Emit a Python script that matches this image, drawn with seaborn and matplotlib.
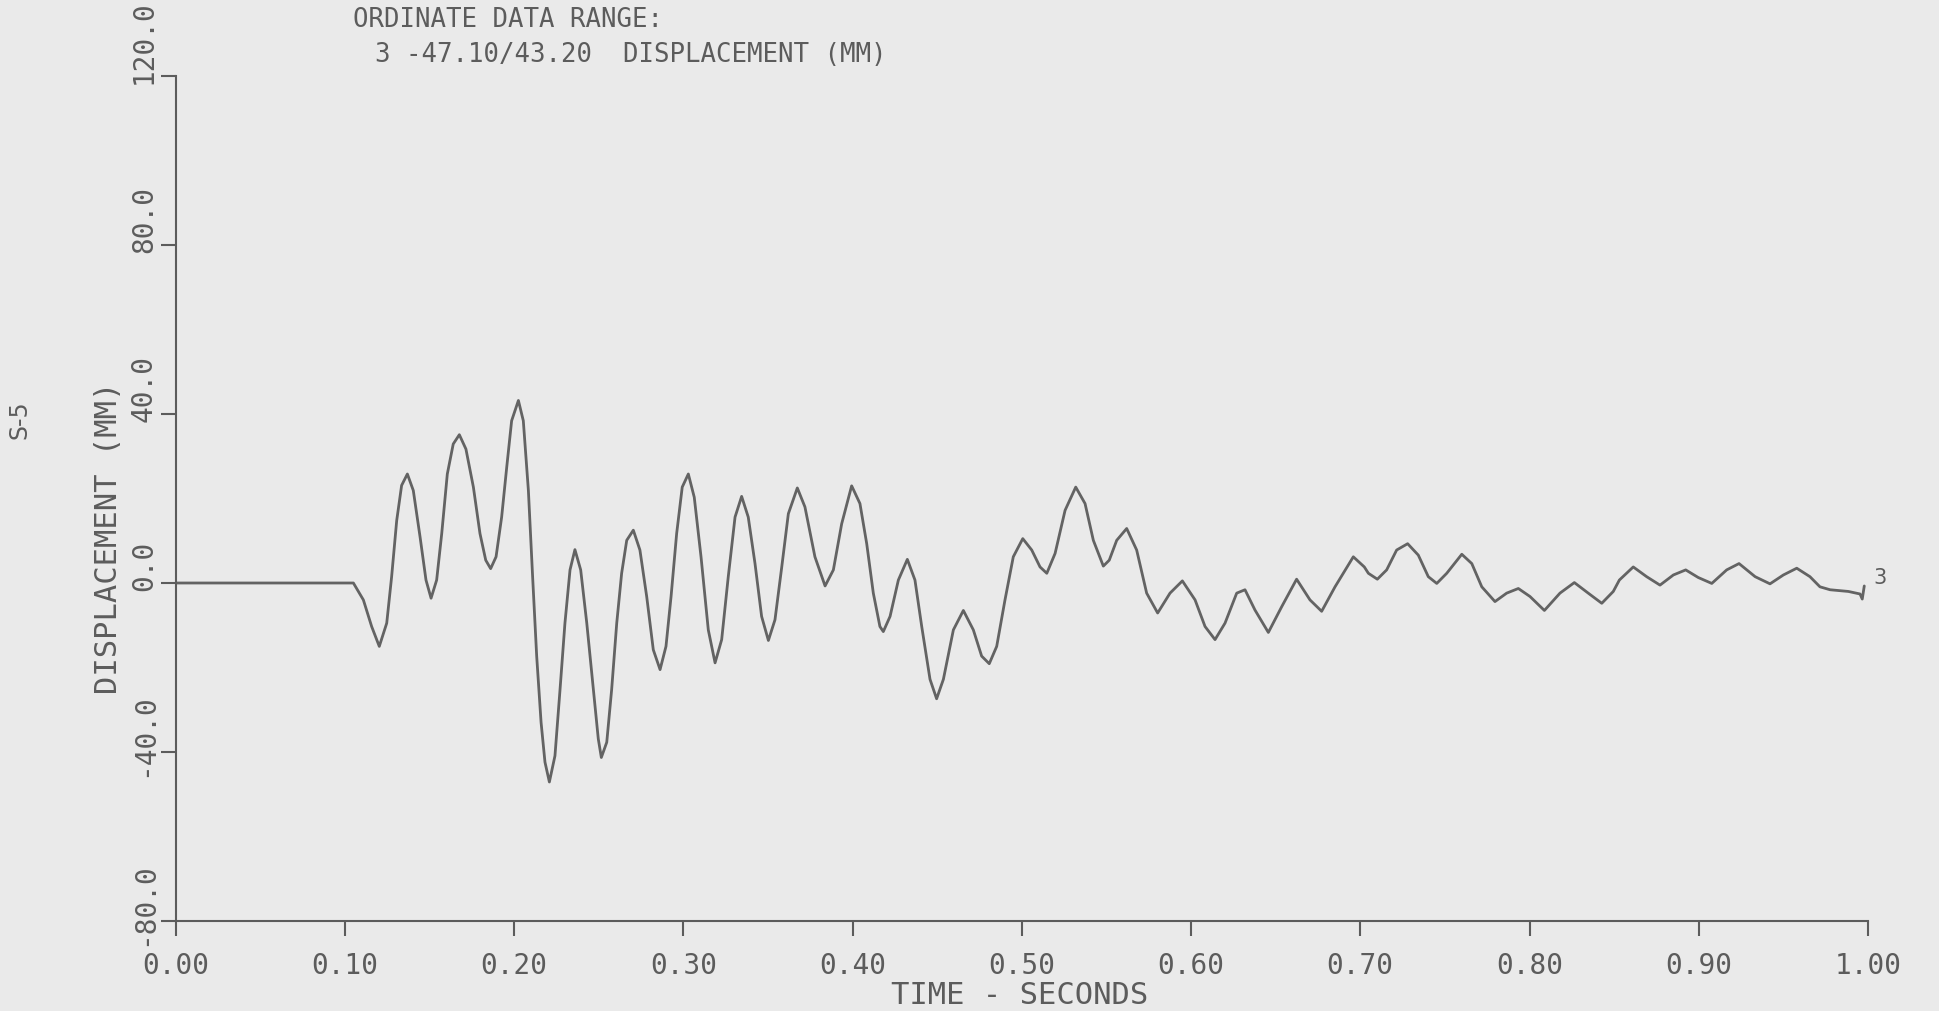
import matplotlib
matplotlib.use("Agg")
import matplotlib.pyplot as plt
import matplotlib.transforms as mtransforms
import pandas as pd
import seaborn as sns

# Displacement trace (time in seconds, displacement in mm)
time_s = [
    0.0000, 0.1051, 0.1110, 0.1159, 0.1204, 0.1248, 0.1277, 0.1307, 0.1336, 0.1370,
    0.1405, 0.1445, 0.1480, 0.1510, 0.1543, 0.1573, 0.1606, 0.1641, 0.1677, 0.1716,
    0.1760, 0.1799, 0.1833, 0.1862, 0.1894, 0.1927, 0.1957, 0.1986, 0.2026, 0.2055,
    0.2085, 0.2110, 0.2134, 0.2160, 0.2183, 0.2209, 0.2242, 0.2272, 0.2301, 0.2331,
    0.2360, 0.2394, 0.2430, 0.2469, 0.2498, 0.2516, 0.2548, 0.2577, 0.2607, 0.2636,
    0.2666, 0.2705, 0.2744, 0.2784, 0.2823, 0.2863, 0.2898, 0.2928, 0.2961, 0.2994,
    0.3030, 0.3065, 0.3105, 0.3148, 0.3188, 0.3227, 0.3266, 0.3306, 0.3345, 0.3384,
    0.3424, 0.3463, 0.3503, 0.3542, 0.3582, 0.3621, 0.3674, 0.3719, 0.3778, 0.3838,
    0.3887, 0.3936, 0.3995, 0.4044, 0.4084, 0.4123, 0.4162, 0.4182, 0.4222, 0.4271,
    0.4324, 0.4369, 0.4409, 0.4458, 0.4497, 0.4537, 0.4596, 0.4655, 0.4714, 0.4763,
    0.4808, 0.4852, 0.4901, 0.4950, 0.5006, 0.5059, 0.5108, 0.5148, 0.5197, 0.5256,
    0.5319, 0.5374, 0.5423, 0.5482, 0.5517, 0.5561, 0.5620, 0.5679, 0.5738, 0.5803,
    0.5876, 0.5949, 0.6024, 0.6083, 0.6142, 0.6201, 0.6270, 0.6319, 0.6378, 0.6457,
    0.6536, 0.6624, 0.6703, 0.6772, 0.6851, 0.6959, 0.7024, 0.7048, 0.7101, 0.7156,
    0.7215, 0.7280, 0.7343, 0.7402, 0.7452, 0.7511, 0.7600, 0.7659, 0.7718, 0.7796,
    0.7865, 0.7934, 0.8003, 0.8088, 0.8180, 0.8265, 0.8347, 0.8427, 0.8495, 0.8531,
    0.8613, 0.8692, 0.8771, 0.8850, 0.8923, 0.8997, 0.9077, 0.9165, 0.9238, 0.9333,
    0.9421, 0.9500, 0.9579, 0.9657, 0.9716, 0.9776, 0.9884, 0.9953, 0.9966, 0.9978,
]
disp_mm = [
    0.0, 0.0, -4.0, -10.3, -15.0, -9.5, 1.5, 14.8, 23.1, 25.8,
    21.9, 10.9, 0.7, -3.6, 0.7, 11.7, 25.8, 32.9, 35.1, 31.7,
    22.7, 11.7, 5.4, 3.4, 6.2, 15.6, 27.4, 38.4, 43.2, 38.4,
    21.9, 1.5, -17.3, -33.0, -42.4, -47.1, -40.9, -25.2, -9.5, 3.1,
    7.9, 3.1, -9.5, -25.2, -36.9, -41.3, -37.7, -25.2, -9.5, 2.3,
    10.1, 12.5, 7.8, -3.2, -15.8, -20.5, -15.0, -3.2, 11.7, 22.7,
    25.8, 20.3, 6.2, -11.1, -18.9, -13.4, 1.5, 15.6, 20.5, 15.6,
    4.6, -7.9, -13.6, -8.7, 3.8, 16.4, 22.5, 18.0, 6.2, -0.7,
    3.1, 14.0, 23.0, 18.8, 9.3, -2.4, -10.3, -11.5, -7.9, 0.7,
    5.6, 0.7, -10.3, -22.8, -27.4, -22.8, -11.1, -6.5, -11.1, -17.3,
    -19.1, -15.0, -4.0, 6.2, 10.5, 7.8, 3.8, 2.3, 7.0, 17.2,
    22.7, 18.8, 10.1, 4.0, 5.4, 10.1, 12.9, 7.8, -2.4, -7.1,
    -2.4, 0.5, -4.0, -10.3, -13.4, -9.5, -2.4, -1.6, -6.4, -11.7,
    -5.6, 0.9, -4.0, -6.7, -0.9, 6.2, 3.8, 2.3, 0.9, 3.1,
    7.8, 9.3, 6.6, 1.5, -0.1, 2.3, 6.8, 4.6, -0.9, -4.4,
    -2.4, -1.3, -3.2, -6.5, -2.4, 0.1, -2.4, -4.8, -2.0, 0.7,
    3.8, 1.5, -0.5, 1.9, 3.1, 1.3, -0.1, 3.1, 4.6, 1.5,
    -0.2, 1.9, 3.5, 1.5, -0.9, -1.6, -2.0, -2.6, -3.8, -0.7,
]

x_ticks = [0.0, 0.1, 0.2, 0.3, 0.4, 0.5, 0.6, 0.7, 0.8, 0.9, 1.0]
x_tick_labels = ["0.00", "0.10", "0.20", "0.30", "0.40", "0.50",
                 "0.60", "0.70", "0.80", "0.90", "1.00"]
y_ticks = [-80, -40, 0, 40, 80, 120]
y_tick_labels = ["-80.0", "-40.0", "0.0", "40.0", "80.0", "120.0"]

header_lines = ["ORDINATE DATA RANGE:", "3 -47.10/43.20  DISPLACEMENT (MM)"]
x_label = "TIME - SECONDS"
y_label = "DISPLACEMENT (MM)"
page_tag = "S-5"
curve_tag = "3"

sns.set_style("ticks")
plt.rcParams["font.family"] = ["DejaVu Sans Mono", "DejaVu Sans"]

paper = "#eaeaea"
ink = "#5c5c5c"
pen = "#636363"

W, H = 1939, 1011
fig = plt.figure(figsize=(W / 100, H / 100), dpi=100, facecolor=paper)

# plot frame in pixel units
x0, x1 = 175.5, 1868.0
y_top, y_bot = 76.0, 921.0
ax = fig.add_axes([x0 / W, 1 - y_bot / H, (x1 - x0) / W, (y_bot - y_top) / H])
ax.set_facecolor(paper)

df = pd.DataFrame({"time": time_s, "disp": disp_mm})
sns.lineplot(data=df, x="time", y="disp", ax=ax, color=pen, linewidth=2.0,
             estimator=None, sort=False, solid_joinstyle="round",
             solid_capstyle="round")

ax.set_xlim(0, 1)
ax.set_ylim(-80, 120)
for side in ["top", "right"]:
    ax.spines[side].set_visible(False)
for side in ["left", "bottom"]:
    ax.spines[side].set_color(ink)
    ax.spines[side].set_linewidth(1.5)

tick_size = 20
title_size = 22

ax.set_xticks(x_ticks)
ax.set_xticklabels(x_tick_labels)
ax.set_yticks(y_ticks)
ax.set_yticklabels([])
ax.tick_params(axis="both", direction="out", length=10.5, width=1.5, color=ink)
ax.tick_params(axis="x", labelsize=tick_size, labelcolor=ink, pad=12)
ax.set_xlabel("")
ax.set_ylabel("")

# rotated y tick labels, reading upward from each tick
char_px = tick_size * 100 / 72 * 0.602
ytrans = ax.get_yaxis_transform()
for v, lab in zip(y_ticks, y_tick_labels):
    shift = char_px * (0.5 + (1.0 if lab.startswith("-") else 0.0))
    tr = mtransforms.offset_copy(ytrans, fig=fig, x=0, y=-shift, units="dots")
    ax.text(-0.0187, v, lab, transform=tr, rotation=90, rotation_mode="anchor",
            ha="left", va="center", fontsize=tick_size, color=ink, clip_on=False)

# header block
fig.text(353 / W, 1 - 27 / H, header_lines[0], ha="left", va="baseline",
         fontsize=18.5, color=ink)
fig.text(375 / W, 1 - 62 / H, header_lines[1], ha="left", va="baseline",
         fontsize=18.5, color=ink)

# axis titles
fig.text(1020 / W, 1 - 996 / H, x_label, ha="center", va="center",
         fontsize=title_size, color=ink)
fig.text(109 / W, 1 - 538 / H, y_label, rotation=90, ha="center", va="center",
         fontsize=title_size, color=ink)

# page tag and curve identifier
fig.text(20 / W, 1 - 420 / H, page_tag, rotation=90, ha="center", va="center",
         fontsize=17, color=ink, family="DejaVu Sans")
ax.text(1.007, 1.2, curve_tag, ha="center", va="center", fontsize=15,
        color=ink, family="DejaVu Sans", clip_on=False)

fig.savefig("out.png", dpi=100, facecolor=paper)
